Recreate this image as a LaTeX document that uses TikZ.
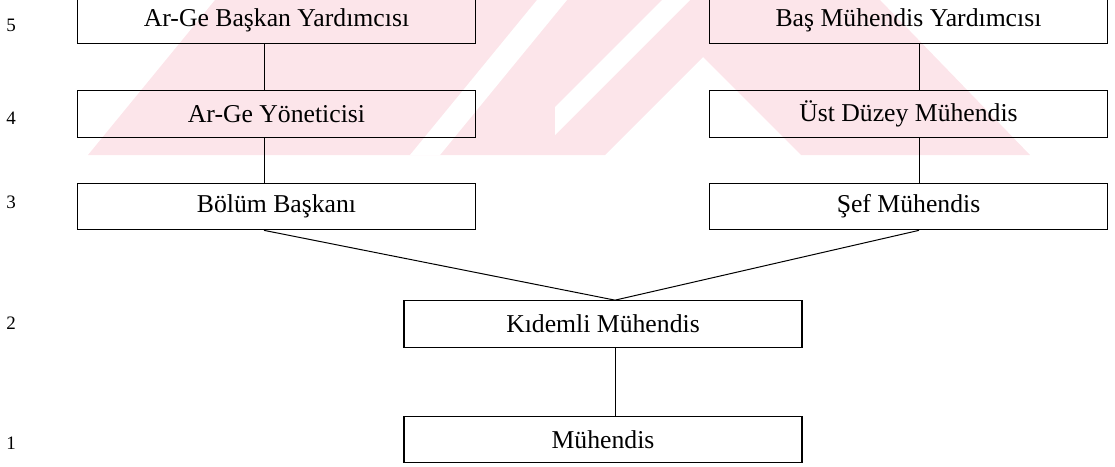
\documentclass[tikz,border=0pt]{standalone}
\usepackage{fontspec}
\setmainfont{Liberation Serif}
\usetikzlibrary{positioning}
\definecolor{wmpink}{RGB}{252,229,234}
\tikzset{
  rank/.style={draw, line width=1.2pt, minimum width=398pt, minimum height=46.5pt,
    inner sep=0pt, font=\fontsize{25.7}{30}\selectfont},
  level/.style={inner sep=0pt, font=\fontsize{19}{22}\selectfont},
  link/.style={line width=1pt}
}
\begin{document}
\begin{tikzpicture}[x=1pt,y=-1pt]
  \useasboundingbox (0,0) rectangle (1115,466);
  % faint watermark behind the chart
  \fill[wmpink] (88,155) -- (215,0) -- (880,0) -- (1030,155) -- (801,155)
    -- (703,57) -- (605,155) -- cycle;
  \fill[white] (410,155) -- (537,0) -- (567,0) -- (440,155) -- cycle;
  \fill[white] (555,107) -- (662,0) -- (690,0) -- (555,135) -- cycle;
  % level numbers
  \node[level] (n5) at (11,25) {5};
  \node[level] (n4) at (11,118) {4};
  \node[level] (n3) at (11,202) {3};
  \node[level] (n2) at (11,323) {2};
  \node[level] (n1) at (11,443) {1};
  % R&D branch
  \node[rank] (arbas) at (276.5,20) {Ar-Ge Başkan Yardımcısı};
  \node[rank] (aryon) at (276.5,114) {Ar-Ge Yöneticisi};
  \node[rank] (bolum) at (276.5,206.5) {Bölüm Başkanı};
  % engineering branch
  \node[rank] (basyar) at (908.5,20) {Baş Mühendis Yardımcısı};
  \node[rank] (ustduz) at (908.5,114) {Üst Düzey Mühendis};
  \node[rank] (sef) at (908.5,206.5) {Şef Mühendis};
  % common base
  \node[rank] (kidemli) at (603,324) {Kıdemli Mühendis};
  \node[rank] (muh) at (603,439.5) {Mühendis};
  % connector columns
  \coordinate (lx) at (264,0);
  \coordinate (rx) at (919,0);
  \coordinate (mx) at (615,0);
  \draw[link] (arbas.south -| lx) -- (aryon.north -| lx);
  \draw[link] (aryon.south -| lx) -- (bolum.north -| lx);
  \draw[link] (basyar.south -| rx) -- (ustduz.north -| rx);
  \draw[link] (ustduz.south -| rx) -- (sef.north -| rx);
  \draw[link] (bolum.south -| lx) -- (kidemli.north -| mx) -- (sef.south -| rx);
  \draw[link] (kidemli.south -| mx) -- (muh.north -| mx);
\end{tikzpicture}
\end{document}
